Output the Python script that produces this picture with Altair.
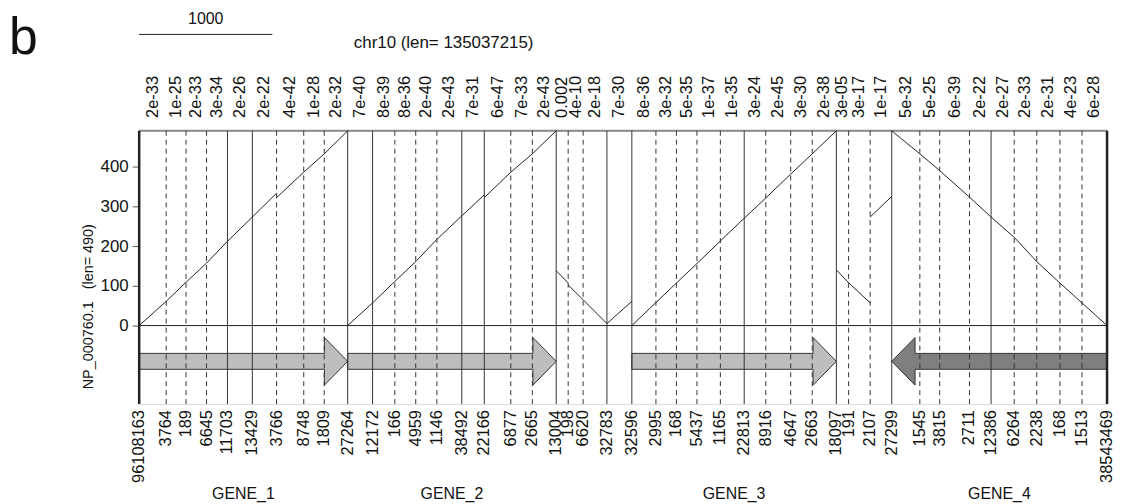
import altair as alt
import numpy as np
import pandas as pd

# ---------------- data ----------------
# widths (bp) of the exon segments along the compressed genomic axis
seg_len = [203, 149, 154, 157, 187, 182, 204, 154, 176,
           187, 167, 157, 159, 187, 169, 199, 162, 179,
           90, 112, 179, 187,
           181, 154, 154, 176, 179, 162, 187, 162, 181,
           92, 162, 162,
           211, 149, 224, 162, 174, 169, 174, 166, 188]

# e-value of each segment (top labels)
seg_evalue = ["2e-33", "1e-25", "2e-33", "3e-34", "2e-26", "2e-22", "4e-42", "1e-28", "2e-32",
              "7e-40", "8e-39", "8e-36", "2e-40", "2e-43", "7e-31", "6e-47", "7e-33", "2e-43",
              "0.002", "4e-10", "2e-18",
              "7e-30",
              "8e-36", "3e-32", "5e-35", "1e-37", "1e-35", "3e-24", "2e-45", "3e-30", "2e-38",
              "3e-05", "3e-17", "1e-17",
              "5e-32", "5e-25", "6e-39", "2e-22", "2e-27", "2e-33", "2e-31", "4e-23", "6e-28"]

# protein (query) coordinates at start / end of each segment
q_start = [0, 61, 109, 157, 212, 273, 322, 386, 432,
           0, 57, 111, 161, 217, 276, 322, 386, 432,
           138, 102, 65,
           5,
           0, 58, 107, 156, 213, 270, 321, 381, 432,
           140, 108, 273,
           490, 432, 390, 323, 273, 222, 161, 107, 57]
q_end = [61, 109, 157, 212, 273, 333, 386, 432, 490,
         57, 111, 161, 217, 276, 329, 386, 432, 490,
         107, 65, 5,
         61,
         58, 107, 156, 213, 270, 321, 381, 432, 490,
         108, 57, 325,
         432, 390, 323, 273, 222, 161, 107, 57, 0]

# labels at segment boundaries (bottom): genomic start, intron lengths, genomic end
boundary_labels = ["96108163", "3764", "189", "6645", "11703", "13429", "3766", "8748", "1809",
                   "27264", "12172", "166", "4959", "1146", "38492", "22166", "6877", "2665",
                   "13004", "198", "6620", "32783", "32596", "2995", "168", "5437", "1165",
                   "22813", "8916", "4647", "2663", "18097", "191", "2107", "27299", "1545",
                   "3815", "2711", "12386", "6264", "2238", "168", "1513", "38543469"]

gene_names = ["GENE_1", "GENE_2", "GENE_3", "GENE_4"]
gene_first_seg = [0, 9, 22, 34]
gene_last_seg = [8, 17, 30, 42]
gene_strand = ["+", "+", "+", "-"]

protein_len = 490
scale_bar_bp = 1000

# ---------------- derived tables ----------------
bounds = np.concatenate([[0], np.cumsum(seg_len)]).astype(float)
total = float(bounds[-1])
centers = (bounds[:-1] + bounds[1:]) / 2

Y_TOP = protein_len
Y_BOT = -197.5
ARROW_MID, BODY_H, HEAD_H, HEAD_LEN = -90, 20, 60, 175
EPS = 0.01

kinds = []
for i, lab in enumerate(boundary_labels):
    if i == 0 or i == len(boundary_labels) - 1:
        kinds.append("edge")
    elif int(lab) >= 10000:
        kinds.append("solid")
    else:
        kinds.append("dashed")
lines_df = pd.DataFrame({"x": bounds, "label": boundary_labels, "kind": kinds,
                         "ytop": Y_TOP, "ybot": Y_BOT})

seg_df = pd.DataFrame({"x": centers, "ev": seg_evalue})

aln_rows = []
for i in range(len(seg_len)):
    aln_rows.append({"seg": i, "x": bounds[i], "q": q_start[i], "o": 0})
    aln_rows.append({"seg": i, "x": bounds[i + 1], "q": q_end[i], "o": 1})
aln_df = pd.DataFrame(aln_rows)

arrow_rows = []
gene_rows = []
for g, a, b, s in zip(gene_names, gene_first_seg, gene_last_seg, gene_strand):
    x0, x1 = bounds[a], bounds[b + 1]
    gene_rows.append({"gene": g, "x": (x0 + x1) / 2})
    lo_b, hi_b = ARROW_MID - BODY_H, ARROW_MID + BODY_H
    lo_h, hi_h = ARROW_MID - HEAD_H, ARROW_MID + HEAD_H
    if s == "+":
        pts = [(x0, lo_b, hi_b), (x1 - HEAD_LEN, lo_b, hi_b),
               (x1 - HEAD_LEN + EPS, lo_h, hi_h), (x1, ARROW_MID, ARROW_MID)]
    else:
        pts = [(x0, ARROW_MID, ARROW_MID), (x0 + HEAD_LEN, lo_h, hi_h),
               (x0 + HEAD_LEN + EPS, lo_b, hi_b), (x1, lo_b, hi_b)]
    for xx, ya, yb in pts:
        arrow_rows.append({"gene": g, "strand": s, "x": xx, "ya": ya, "yb": yb})
arrow_df = pd.DataFrame(arrow_rows)
gene_df = pd.DataFrame(gene_rows)

zero_df = pd.DataFrame({"x": [0.0], "x2": [total], "y": [0]})
top_df = pd.DataFrame({"x": [0.0], "x2": [total], "y": [Y_TOP]})
bar_df = pd.DataFrame({"x": [0.0], "x2": [float(scale_bar_bp)], "mid": [scale_bar_bp / 2],
                       "label": [str(scale_bar_bp)]})

FONT = "Liberation Sans"
LAB = 16.5
xs = alt.Scale(domain=[0, total], nice=False, zero=False)
ys = alt.Scale(domain=[Y_BOT, Y_TOP], nice=False, zero=False)


def X(f="x"):
    return alt.X(f"{f}:Q", scale=xs, axis=None)


# arrows (one area polygon per gene)
arrows = alt.Chart(arrow_df).mark_area(stroke="#333333", strokeWidth=1, opacity=1,
                                       fillOpacity=1, interpolate="linear").encode(
    x=X(),
    y=alt.Y("ya:Q", scale=ys, stack=None,
            axis=alt.Axis(values=[0, 100, 200, 300, 400], title=None, domain=False, grid=False,
                          tickSize=7, tickColor="#555555", tickWidth=1,
                          labelFont=FONT, labelFontSize=17, labelColor="#111111", labelPadding=4)),
    y2="yb:Q",
    detail="gene:N",
    fill=alt.Fill("strand:N", scale=alt.Scale(domain=["+", "-"], range=["#bdbdbf", "#7f7f81"]),
                  legend=None),
)

zero_line = alt.Chart(zero_df).mark_rule(color="#222222", strokeWidth=1).encode(
    x=X(), x2="x2:Q", y=alt.Y("y:Q", scale=ys))
top_line = alt.Chart(top_df).mark_rule(color="#8a8a8a", strokeWidth=2).encode(
    x=X(), x2="x2:Q", y=alt.Y("y:Q", scale=ys))

solid = alt.Chart(lines_df).transform_filter("datum.kind == 'solid'").mark_rule(
    color="#333333", strokeWidth=1).encode(x=X(), y=alt.Y("ytop:Q", scale=ys), y2="ybot:Q")
dashed = alt.Chart(lines_df).transform_filter("datum.kind == 'dashed'").mark_rule(
    color="#333333", strokeWidth=1, strokeDash=[5, 4]).encode(
    x=X(), y=alt.Y("ytop:Q", scale=ys), y2="ybot:Q")
edges = alt.Chart(lines_df).transform_filter("datum.kind == 'edge'").mark_rule(
    color="#222222", strokeWidth=2.5).encode(x=X(), y=alt.Y("ytop:Q", scale=ys), y2="ybot:Q")

aln = alt.Chart(aln_df).mark_line(color="#222222", strokeWidth=1).encode(
    x=X(), y=alt.Y("q:Q", scale=ys), detail="seg:N", order="o:Q")

top_labels = alt.Chart(seg_df).mark_text(angle=270, align="left", baseline="middle",
                                         font=FONT, fontSize=LAB, color="#111111").encode(
    x=X(), y=alt.value(-13), text="ev:N")
bottom_labels = alt.Chart(lines_df).mark_text(angle=270, align="right", baseline="middle",
                                              font=FONT, fontSize=LAB, color="#111111").encode(
    x=X(), y=alt.value(281), text="label:N")
gene_labels = alt.Chart(gene_df).mark_text(align="center", baseline="alphabetic",
                                           font=FONT, fontSize=16, color="#111111").encode(
    x=X(), y=alt.value(371), text="gene:N")

bar = alt.Chart(bar_df).mark_rule(color="#222222", strokeWidth=1).encode(
    x=X(), x2="x2:Q", y=alt.value(-97))
bar_text = alt.Chart(bar_df).mark_text(align="center", baseline="alphabetic",
                                       font=FONT, fontSize=16, color="#111111").encode(
    x=X("mid"), y=alt.value(-107), text="label:N")

title_df = pd.DataFrame({"t": ["chr10 (len= 135037215)"]})
chr_text = alt.Chart(title_df).mark_text(align="left", baseline="alphabetic", font=FONT,
                                         fontSize=17, color="#111111").encode(
    x=alt.value(216), y=alt.value(-83), text="t:N")
ytitle_df = pd.DataFrame({"t": ["NP_000760.1\u00a0\u00a0\u00a0(len= 490)"]})
ytitle = alt.Chart(ytitle_df).mark_text(angle=270, align="center", baseline="middle", font=FONT,
                                        fontSize=14.5, color="#111111").encode(
    x=alt.value(-50), y=alt.value(177), text="t:N")
b_df = pd.DataFrame({"t": ["b"]})
b_text = alt.Chart(b_df).mark_text(align="left", baseline="alphabetic", font=FONT,
                                   fontSize=52, color="#111111").encode(
    x=alt.value(-131), y=alt.value(-77), text="t:N")

chart = alt.layer(
    arrows, zero_line, top_line, solid, dashed, edges, aln,
    top_labels, bottom_labels, gene_labels, bar, bar_text, chr_text, ytitle, b_text
).properties(
    width=974, height=275,
    autosize=alt.AutoSizeParams(type="none"),
    padding={"left": 132, "top": 122, "right": 7, "bottom": 103},
).configure_view(stroke=None).configure(background="white")

chart.save("out.html", embed_options={"renderer": "svg", "actions": False})
